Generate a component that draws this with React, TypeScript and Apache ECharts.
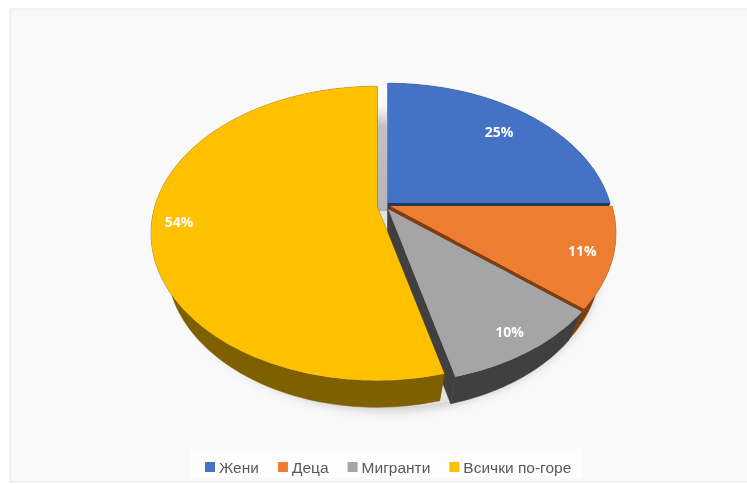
import React, { useEffect, useRef } from "react";
import * as echarts from "echarts";

const categories = ["Жени", "Деца", "Мигранти", "Всички по-горе"];
const shares = [25, 11, 10, 54];

const topColors = ["#4472C4", "#ED7D31", "#A5A5A5", "#FFC000"];
const wallColors = ["#1F3864", "#843C0C", "#404040", "#7F6000"];
// how far each slice is pulled out of the pie, on screen
const pullX = [0, 2, 0, -11];
const pullY = [0, 3, 6, 3];
const labelFraction = [0.78, 0.87, 0.88, 0.88];

const CX = 388;
const CY = 203;
const RX = 222;
const RY = 142;
const TILT = 0.186;
const FLOOR_X = 0.93;
const FLOOR_Y = 0.97;
const FLOOR_DROP = 32;
const total = shares.reduce((a, b) => a + b, 0);

function top(angle: number, f: number, i: number): number[] {
  const X = Math.sin(angle) * f;
  const Y = Math.cos(angle) * f;
  const w = 1 + TILT * Y;
  return [CX + pullX[i] + (RX * X) / w, CY + pullY[i] - (RY * Y) / w];
}
function floor(angle: number, f: number, i: number): number[] {
  const X = Math.sin(angle) * f;
  const Y = Math.cos(angle) * f;
  const w = 1 + TILT * Y;
  return [
    CX + pullX[i] + (FLOOR_X * RX * X) / w,
    CY + pullY[i] + FLOOR_DROP - (FLOOR_Y * RY * Y) / w,
  ];
}

function sliceSeries(i: number) {
  return {
    type: "custom",
    name: categories[i],
    coordinateSystem: "none",
    z: 2,
    itemStyle: { color: topColors[i] },
    data: [[shares[i]]],
    renderItem: (_p: any, api: any) => {
      const before = shares.slice(0, i).reduce((a, b) => a + b, 0);
      const value = api.value(0);
      const a0 = (before / total) * Math.PI * 2;
      const a1 = ((before + value) / total) * Math.PI * 2;
      const steps = Math.max(4, Math.ceil((a1 - a0) / 0.02));
      const arcTop: number[][] = [];
      const arcFloor: number[][] = [];
      for (let s = 0; s <= steps; s++) {
        const a = a0 + ((a1 - a0) * s) / steps;
        arcTop.push(top(a, 1, i));
        arcFloor.push(floor(a, 1, i));
      }
      const wallStyle = { fill: wallColors[i], stroke: wallColors[i], lineWidth: 0.5 };
      const vT = top(0, 0, i);
      const vF = floor(0, 0, i);
      const mid = (a0 + a1) / 2;
      const lp = top(mid, labelFraction[i], i);
      return {
        type: "group",
        children: [
          { type: "polygon", shape: { points: [...arcTop, ...arcFloor.slice().reverse()] }, style: wallStyle },
          { type: "polygon", shape: { points: [vT, arcTop[0], arcFloor[0], vF] }, style: wallStyle },
          { type: "polygon", shape: { points: [vT, arcTop[steps], arcFloor[steps], vF] }, style: wallStyle },
          { type: "polygon", shape: { points: [vT, ...arcTop] }, style: { fill: topColors[i] } },
          {
            type: "text",
            x: lp[0],
            y: lp[1],
            style: {
              text: `${value}%`,
              fill: "#FFFFFF",
              font: 'bold 14px "Open Sans"',
              align: "center",
              verticalAlign: "middle",
            },
          },
        ],
      };
    },
  };
}

export default function App() {
  const ref = useRef<HTMLDivElement>(null);
  useEffect(() => {
    const chart = echarts.init(ref.current!, undefined, { renderer: "svg" });
    chart.setOption({
      animation: false,
      backgroundColor: "#FFFFFF",
      legend: {
        data: categories,
        left: 200,
        top: 454,
        icon: "rect",
        itemWidth: 10,
        itemHeight: 10,
        itemGap: 19,
        textStyle: { color: "#595959", fontSize: 15.5, fontFamily: '"Liberation Sans"', padding: [0, 0, 0, -1] },
      },
      graphic: [
        { type: "rect", z: -5, shape: { x: 10, y: 9, width: 760, height: 473 }, style: { fill: "#F9F9F9", stroke: "#E8E8E8", lineWidth: 1 } },
        { type: "rect", z: -4, shape: { x: 190, y: 449, width: 392, height: 29 }, style: { fill: "#FDFDFD" } },
        {
          type: "ellipse",
          z: -3,
          shape: { cx: 388, cy: 262, rx: 210, ry: 145 },
          style: { fill: "#E2E2E2", shadowBlur: 12, shadowColor: "rgba(0,0,0,0.25)", shadowOffsetY: 2 },
        },
        {
          type: "rect",
          z: -2,
          shape: { x: 376, y: 86, width: 14, height: 125 },
          style: {
            fill: new echarts.graphic.LinearGradient(0, 0, 0, 1, [
              { offset: 0, color: "#FFFFFF" },
              { offset: 0.16, color: "#FBFBFB" },
              { offset: 0.32, color: "#C2C2C2" },
              { offset: 1, color: "#B4B4B4" },
            ]),
          },
        },
      ],
      series: categories.map((_, i) => sliceSeries(i)),
    });
    return () => chart.dispose();
  }, []);
  return (
    <div
      ref={ref}
      style={{ width: 747, height: 484, position: "absolute", left: 0, top: 0, filter: "blur(0.6px)" }}
    />
  );
}
